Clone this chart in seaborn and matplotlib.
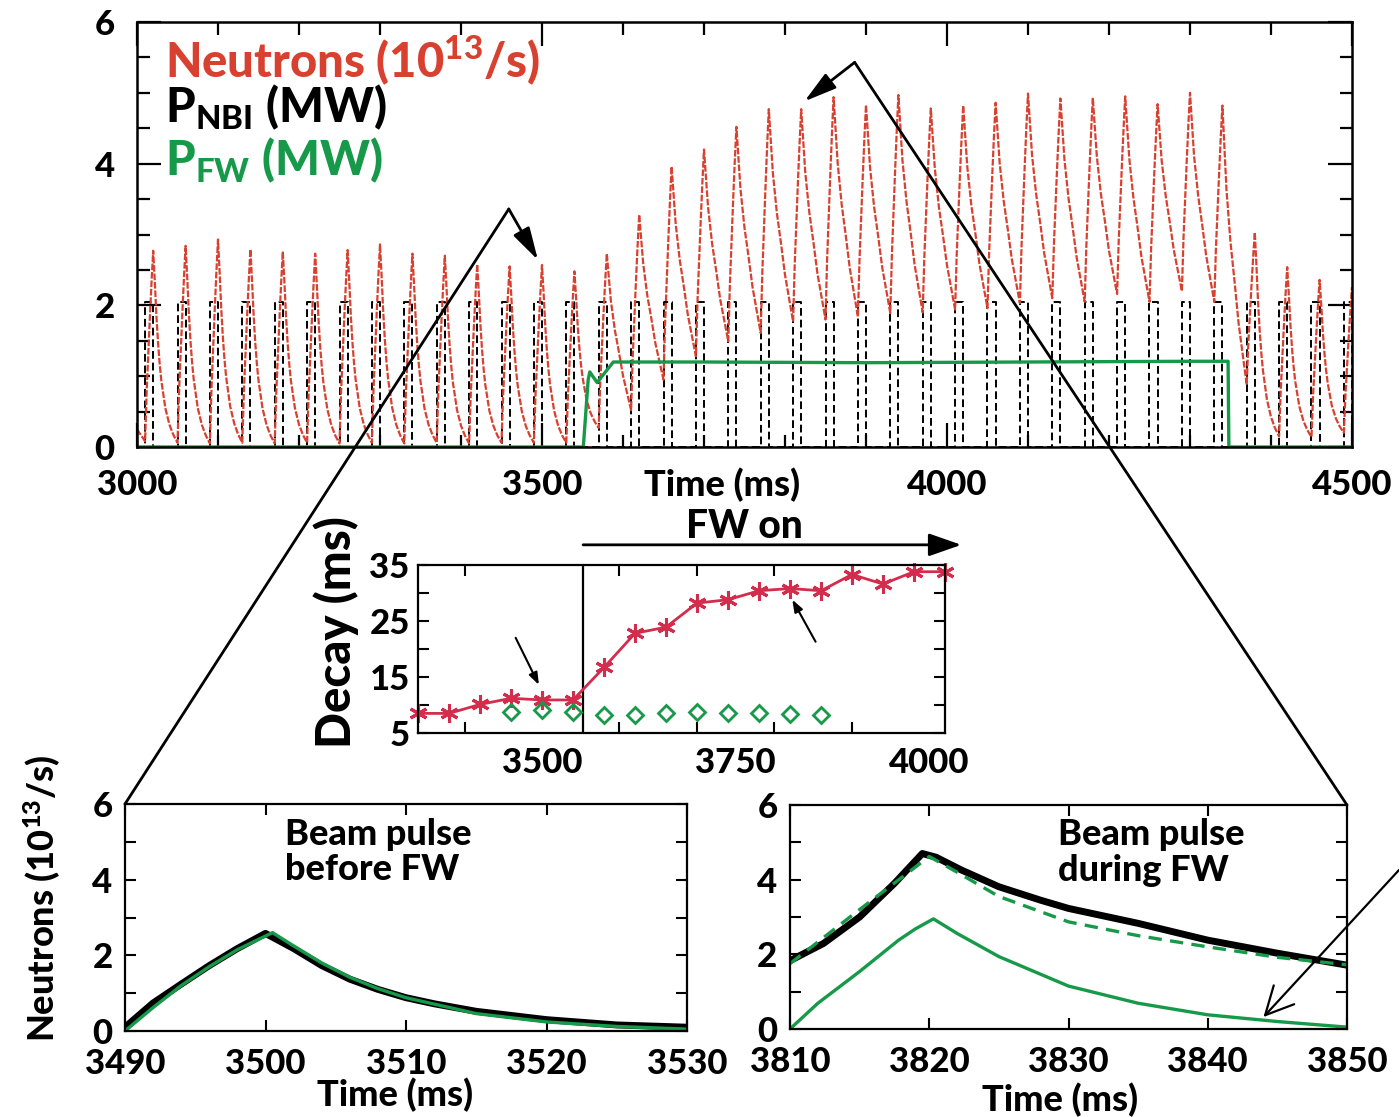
import numpy as np
import pandas as pd
import seaborn as sns
import matplotlib.pyplot as plt
from matplotlib.patches import ConnectionPatch
from matplotlib.ticker import MultipleLocator, FixedLocator

# ---- data ----
# top panel: beam pulses every 40 ms, 10 ms long, neutron peak at the end of each pulse
peak_t = [3020, 3060, 3100, 3140, 3180, 3220, 3260, 3300, 3340, 3380,
          3420, 3460, 3500, 3540, 3580, 3620, 3660, 3700, 3740, 3780,
          3820, 3860, 3900, 3940, 3980, 4020, 4060, 4100, 4140, 4180,
          4220, 4260, 4300, 4340, 4380, 4420, 4460, 4500]
peak_n = [2.77, 2.84, 2.93, 2.79, 2.76, 2.73, 2.78, 2.86, 2.73, 2.70,
          2.58, 2.55, 2.57, 2.48, 2.73, 3.28, 3.96, 4.20, 4.52, 4.77,
          4.77, 4.94, 4.83, 4.97, 4.78, 4.82, 4.86, 4.99, 4.92, 4.93,
          4.95, 4.84, 5.00, 4.82, 3.03, 2.54, 2.36, 2.26]
# neutron rate when each beam pulse switches on
start_n = [0.08, 0.06, 0.05, 0.06, 0.05, 0.06, 0.05, 0.06, 0.05, 0.06,
           0.05, 0.06, 0.06, 0.06, 0.27, 0.52, 0.95, 1.28, 1.49, 1.61,
           1.77, 1.80, 1.84, 1.89, 1.90, 1.94, 1.96, 2.03, 2.10, 2.05,
           2.16, 2.05, 2.20, 2.05, 0.88, 0.15, 0.14, 0.20]
n_at_3000 = 0.25
pulse_len = 10
nbi_power = 2.05

# pulse shapes (fraction of the swing) read from the two zoomed pulses
rise_dt = [0, 2, 4, 6, 8, 10]
rise_frac = [0, 0.27, 0.47, 0.66, 0.84, 1.0]
decay_dt_nbi = [0, 2, 4, 6, 8, 10, 15, 20, 25, 30]
decay_frac_nbi = [1, 0.84, 0.66, 0.52, 0.41, 0.325, 0.18, 0.095, 0.04, 0]
decay_dt_fw = [0, 2.5, 5, 10, 15, 20, 25, 30]
decay_frac_fw = [1, 0.85, 0.70, 0.51, 0.37, 0.22, 0.11, 0]

fw_on, fw_off = 3553, 4348
fw_t = [3000, 3551, 3557, 3559, 3568, 3588, 3700, 3900, 4100, 4300, 4347, 4348, 4500]
fw_p = [0, 0, 0.95, 1.06, 0.91, 1.20, 1.20, 1.19, 1.20, 1.21, 1.21, 0, 0]

# inset: decay times
tau_t = [3340, 3380, 3420, 3460, 3500, 3540, 3580, 3620, 3660, 3700,
         3740, 3780, 3820, 3860, 3900, 3940, 3980, 4020]
tau_fw = [8.5, 8.5, 10.1, 11.2, 10.9, 10.9, 16.7, 22.8, 23.9, 28.2,
          28.8, 30.4, 30.8, 30.4, 33.3, 31.6, 33.8, 33.8]
tau_ref_t = [3460, 3500, 3540, 3580, 3620, 3660, 3700, 3740, 3780, 3820, 3860]
tau_ref = [8.8, 9.1, 8.7, 8.2, 8.2, 8.6, 8.7, 8.6, 8.6, 8.4, 8.3]

# bottom left: pulse before FW
bl_t = [3490, 3491, 3492, 3494, 3496, 3498, 3500, 3502, 3504, 3506, 3508,
        3510, 3512, 3515, 3520, 3525, 3530]
bl_meas = [0.10, 0.42, 0.74, 1.24, 1.73, 2.18, 2.58, 2.18, 1.73, 1.37, 1.10,
           0.88, 0.72, 0.52, 0.30, 0.16, 0.10]
bl_fit_t = [3490, 3492, 3494, 3496, 3498, 3500.5, 3502, 3504, 3506, 3508,
            3510, 3515, 3520, 3525, 3530]
bl_fit = [0.0, 0.62, 1.2, 1.7, 2.15, 2.6, 2.25, 1.8, 1.42, 1.12,
          0.88, 0.46, 0.24, 0.12, 0.05]

# bottom right: pulse during FW
br_t = [3810, 3812.4, 3815, 3817.5, 3819.5, 3820.5, 3822.3, 3825, 3828,
        3830, 3835, 3840, 3845, 3850]
br_meas = [1.83, 2.29, 3.0, 3.9, 4.7, 4.6, 4.26, 3.81, 3.45,
           3.23, 2.83, 2.38, 2.03, 1.71]
br_total_t = [3810, 3815, 3820, 3822, 3825, 3830, 3835, 3840, 3845, 3850]
br_total = [1.75, 3.2, 4.62, 4.2, 3.55, 2.87, 2.5, 2.2, 1.92, 1.72]
br_new_t = [3810, 3812, 3815, 3817.8, 3819, 3820.3, 3822, 3825, 3830,
            3835, 3840, 3845, 3850]
br_new = [0.0, 0.69, 1.54, 2.38, 2.68, 2.95, 2.56, 1.94, 1.15,
          0.69, 0.38, 0.20, 0.05]

# ---- build traces from the read values ----
n_t, n_v = [3000], [n_at_3000]
for k, (tp, pk, st) in enumerate(zip(peak_t, peak_n, start_n)):
    for dt, f in zip(rise_dt, rise_frac):
        n_t.append(tp - pulse_len + dt)
        n_v.append(st + (pk - st) * f)
    if k + 1 < len(peak_t):
        end = start_n[k + 1]
        if fw_on < tp < fw_off:
            dts, fr = decay_dt_fw, decay_frac_fw
        else:
            dts, fr = decay_dt_nbi, decay_frac_nbi
        for dt, f in zip(dts[1:-1], fr[1:-1]):
            n_t.append(tp + dt)
            n_v.append(end + (pk - end) * f)
neutrons = pd.DataFrame({'t': n_t, 'n': n_v})

nb_t, nb_p = [3000], [0]
for tp in peak_t:
    nb_t += [tp - pulse_len, tp - pulse_len, tp, tp]
    nb_p += [0, nbi_power, nbi_power, 0]
nbi = pd.DataFrame({'t': nb_t, 'p': nb_p})

# ---- style ----
sns.set_theme(style='ticks')
plt.rcParams['font.family'] = ['Lato', 'DejaVu Sans']
plt.rcParams['font.weight'] = 'black'
plt.rcParams['mathtext.fontset'] = 'custom'
plt.rcParams['mathtext.rm'] = 'Lato:black'
plt.rcParams['mathtext.bf'] = 'Lato:black'
plt.rcParams['mathtext.it'] = 'Lato:black'
plt.rcParams['axes.edgecolor'] = 'black'
plt.rcParams['xtick.color'] = 'black'
plt.rcParams['ytick.color'] = 'black'
plt.rcParams['text.color'] = 'black'

red = '#d8412f'
crimson = '#d42c4c'
green = '#17994a'

W, H = 1399, 1117


def box(l, t, r, b):
    return [l / W, 1 - b / H, (r - l) / W, (b - t) / H]


def frame(ax, lw=1.8):
    for s in ax.spines.values():
        s.set_linewidth(lw)
        s.set_color('black')
        s.set_visible(True)


fig = plt.figure(figsize=(W / 100, H / 100), dpi=100)

# ---- top panel ----
ax = fig.add_axes(box(137, 22, 1352, 447))
sns.lineplot(data=nbi, x='t', y='p', ax=ax, color='black', lw=1.4,
             linestyle=(0, (4, 2)), estimator=None, sort=False)
sns.lineplot(data=neutrons, x='t', y='n', ax=ax, color=red, lw=1.6,
             linestyle=(0, (3, 0.8)), estimator=None, sort=False)
sns.lineplot(x=fw_t, y=fw_p, ax=ax, color=green, lw=2.4,
             estimator=None, sort=False)
ax.set_xlim(3000, 4500)
ax.set_ylim(0, 6)
ax.set_xticks([3000, 3500, 4000, 4500])
ax.xaxis.set_minor_locator(MultipleLocator(100))
ax.set_yticks([0, 2, 4, 6])
ax.yaxis.set_minor_locator(MultipleLocator(0.5))
ax.tick_params(which='both', direction='in', top=True, right=True,
               width=1.6, labelsize=25, pad=16)
ax.tick_params(which='major', length=17)
ax.tick_params(which='minor', length=9)
ax.set_xlabel('')
ax.set_ylabel('')
frame(ax)
ax.text(0.023, 0.91, r'Neutrons (10$^{13}$/s)', transform=ax.transAxes,
        color=red, fontsize=34, va='center', ha='left')
ax.text(0.023, 0.80, r'P$_{\rm NBI}$ (MW)', transform=ax.transAxes,
        color='black', fontsize=34, va='center', ha='left')
ax.text(0.023, 0.675, r'P$_{\rm FW}$ (MW)', transform=ax.transAxes,
        color=green, fontsize=34, va='center', ha='left')
fig.text(722 / W, 1 - 485 / H, 'Time (ms)', fontsize=26, ha='center', va='center')

# ---- inset ----
axi = fig.add_axes(box(418, 565, 945, 733))
axi.axvline(fw_on, color='black', lw=1.6)
sns.lineplot(x=tau_t, y=tau_fw, ax=axi, color=crimson, lw=2, marker=(6, 2, 0),
             markersize=13, markeredgewidth=2.2, markeredgecolor=crimson,
             estimator=None, sort=False, clip_on=False)
sns.lineplot(x=tau_ref_t, y=tau_ref, ax=axi, color=green, linestyle='none',
             marker='D', markersize=8, markerfacecolor='none',
             markeredgecolor=green, markeredgewidth=2, estimator=None)
axi.set_xlim(3340, 4020)
axi.set_ylim(5, 35)
axi.set_xticks([3500, 3750, 4000])
axi.xaxis.set_minor_locator(FixedLocator([3400, 3500, 3600, 3700, 3800, 3900, 4000]))
axi.set_yticks([5, 15, 25, 35])
axi.yaxis.set_minor_locator(FixedLocator([10, 20, 30]))
axi.tick_params(which='both', direction='in', top=True, right=True,
                width=1.5, labelsize=25, pad=6)
axi.tick_params(axis='x', which='major', length=0, pad=10)
axi.tick_params(axis='y', which='major', length=8)
axi.tick_params(which='minor', length=8)
axi.set_xlabel('')
axi.set_ylabel('')
frame(axi, 1.6)
arrow_kw = dict(arrowstyle='-|>,head_length=0.6,head_width=0.22', color='black',
                lw=1.5, shrinkA=0, shrinkB=0)
axi.annotate('', xy=(3496, 13.6), xytext=(3466, 22.0), arrowprops=arrow_kw)
axi.annotate('', xy=(3823, 28.8), xytext=(3853, 21.3), arrowprops=arrow_kw)
axi.annotate('', xy=(4041, 38.6), xytext=(fw_on, 38.6), annotation_clip=False,
             arrowprops=dict(arrowstyle='-|>,head_length=0.8,head_width=0.28',
                             color='black', lw=2, shrinkA=0, shrinkB=0,
                             mutation_scale=25))
axi.text(3761, 41.8, 'FW on', fontsize=28, ha='center', va='center', clip_on=False)
fig.text(336 / W, 1 - 632 / H, 'Decay (ms)', fontsize=34, rotation=90,
         ha='center', va='center')

# ---- bottom left ----
axl = fig.add_axes(box(125, 804, 687, 1031))
sns.lineplot(x=bl_t, y=bl_meas, ax=axl, color='black', lw=5,
             estimator=None, sort=False)
sns.lineplot(x=bl_fit_t, y=bl_fit, ax=axl, color=green, lw=2.4,
             estimator=None, sort=False)
axl.set_xlim(3490, 3530)
axl.set_ylim(0, 6)
axl.set_xticks([3490, 3500, 3510, 3520, 3530])
axl.set_yticks([0, 2, 4, 6])
axl.yaxis.set_minor_locator(FixedLocator([1, 3, 5]))
axl.tick_params(which='both', direction='in', top=True, right=True,
                width=1.5, length=8, labelsize=25)
axl.tick_params(axis='x', pad=12)
axl.tick_params(axis='y', pad=9)
axl.set_xlabel('')
axl.set_ylabel('')
frame(axl, 1.6)
axl.text(0.285, 0.94, 'Beam pulse\nbefore FW', transform=axl.transAxes,
         fontsize=26, ha='left', va='top', linespacing=1.1)
fig.text(395 / W, 1 - 1095 / H, 'Time (ms)', fontsize=26, ha='center', va='center')
fig.text(42 / W, 1 - 898 / H, r'Neutrons (10$^{13}$/s)', fontsize=26, rotation=90,
         ha='center', va='center')

# ---- bottom right ----
axr = fig.add_axes(box(790, 805, 1347, 1029))
sns.lineplot(x=br_t, y=br_meas, ax=axr, color='black', lw=5,
             estimator=None, sort=False)
sns.lineplot(x=br_total_t, y=br_total, ax=axr, color=green, lw=2.4,
             linestyle=(0, (4, 2.5)), estimator=None, sort=False)
sns.lineplot(x=br_new_t, y=br_new, ax=axr, color=green, lw=2.4,
             estimator=None, sort=False)
axr.set_xlim(3810, 3850)
axr.set_ylim(0, 6)
axr.set_xticks([3810, 3820, 3830, 3840, 3850])
axr.set_yticks([0, 2, 4, 6])
axr.yaxis.set_minor_locator(FixedLocator([1, 3, 5]))
axr.tick_params(which='both', direction='in', top=True, right=True,
                width=1.5, length=8, labelsize=25)
axr.tick_params(axis='x', pad=12)
axr.tick_params(axis='y', pad=9)
axr.set_xlabel('')
axr.set_ylabel('')
frame(axr, 1.6)
axr.text(0.481, 0.94, 'Beam pulse\nduring FW', transform=axr.transAxes,
         fontsize=26, ha='left', va='top', linespacing=1.1)
fig.text(1060 / W, 1 - 1100 / H, 'Time (ms)', fontsize=26, ha='center', va='center')
axr.annotate('', xy=(3844, 0.32), xytext=(1.0, 1 - 870 / H),
             textcoords='figure fraction',
             arrowprops=dict(arrowstyle='->,head_length=0.5,head_width=0.25',
                             color='black', lw=1.6, shrinkA=0, shrinkB=0,
                             mutation_scale=40))

# ---- zoom lines and arrows from the top panel ----
big_arrow = dict(arrowstyle='-|>,head_length=0.9,head_width=0.25', color='black',
                 lw=2, shrinkA=0, shrinkB=0, mutation_scale=22)
ax.annotate('', xy=(3495, 2.64), xytext=(3459, 3.36), arrowprops=big_arrow,
            annotation_clip=False)
ax.annotate('', xy=(3824, 4.88), xytext=(3886, 5.43), arrowprops=big_arrow,
            annotation_clip=False)
fig.add_artist(ConnectionPatch(xyA=(3459, 3.36), coordsA=ax.transData,
                               xyB=(3490, 6), coordsB=axl.transData,
                               color='black', lw=2))
fig.add_artist(ConnectionPatch(xyA=(3886, 5.43), coordsA=ax.transData,
                               xyB=(3850, 6), coordsB=axr.transData,
                               color='black', lw=2))

fig.savefig('out.png', dpi=100, facecolor='white')
